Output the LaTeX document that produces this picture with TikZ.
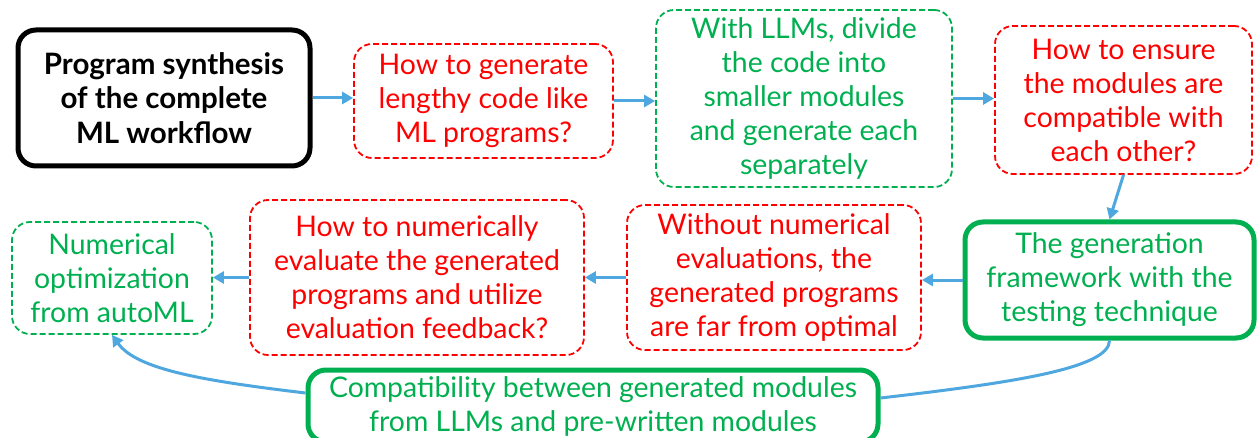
\documentclass[tikz,border=0pt]{standalone}
\usepackage{fontspec}
\setmainfont{Lato}
\usetikzlibrary{arrows.meta}
\definecolor{myred}{RGB}{255,0,0}
\definecolor{mygreen}{RGB}{0,176,80}
\definecolor{myblue}{RGB}{78,167,222}
\begin{document}
\begin{tikzpicture}[x=1pt,y=-1pt,
 box/.style={rectangle, rounded corners=18pt, align=center, inner sep=0pt, font=\fontsize{28.4}{34}\selectfont},
 redq/.style={box, draw=myred, text=myred, dash pattern=on 6pt off 3pt, line width=1.8pt},
 greend/.style={box, draw=mygreen, text=mygreen, dash pattern=on 6pt off 3pt, line width=1.8pt},
 greenth/.style={box, draw=mygreen, text=mygreen, line width=5pt, fill=white},
 blackb/.style={box, draw=black, line width=5pt, font=\fontsize{29.5}{34.5}\selectfont\bfseries},
 arr/.style={draw=myblue, line width=3pt, -{Triangle[length=11pt,width=12pt]}},
 conn/.style={draw=myblue, line width=3pt}]
\useasboundingbox (0,0) rectangle (1257,438);
\node[blackb, minimum width=292pt, minimum height=136pt] (n1) at (164,98) {Program synthesis\\of the complete\\ML workflow};
\node[redq, minimum width=259pt, minimum height=114pt] (n2) at (483.5,101) {How to generate\\lengthy code like\\ML programs?};
\node[greend, minimum width=296pt, minimum height=177pt] (n3) at (804,98.5) {With LLMs, divide\\the code into\\smaller modules\\and generate each\\separately};
\node[redq, minimum width=257pt, minimum height=148pt] (n4) at (1123.5,100) {How to ensure\\the modules are\\compatible with\\each other?};
\node[greenth, minimum width=289pt, minimum height=116pt] (n5) at (1109.5,280) {The generation\\framework with the\\testing technique};
\node[redq, minimum width=294pt, minimum height=145pt] (n6) at (774,277.5) {Without numerical\\evaluations, the\\generated programs\\are far from optimal};
\node[redq, minimum width=334pt, minimum height=155pt] (n7) at (417,277.5) {How to numerically\\evaluate the generated\\programs and utilize\\evaluation feedback?};
\node[greend, minimum width=200pt, minimum height=112pt] (n8) at (112,278) {Numerical\\optimization\\from autoML};
\node[greenth, minimum width=570pt, minimum height=72pt] (n9) at (593,406) {Compatibility between generated modules\\from LLMs and pre-written modules};
\draw[conn] (n5.south) .. controls +(0,28) and +(130,-15) .. ([yshift=8pt]n9.east);
\draw[arr] ([yshift=13pt]n9.west) .. controls +(-100,-12) and +(25,35) .. (n8.south);
\draw[arr] (n1.east) -- (n1.east -| n2.west);
\draw[arr] (n2.east) -- (n2.east -| n3.west);
\draw[arr] (n3.east) -- (n3.east -| n4.west);
\draw[arr] (n4.south) -- (n5.north);
\draw[arr] (n5.west) -- (n5.west -| n6.east);
\draw[arr] (n6.west) -- (n6.west -| n7.east);
\draw[arr] (n7.west) -- (n7.west -| n8.east);
\end{tikzpicture}
\end{document}
